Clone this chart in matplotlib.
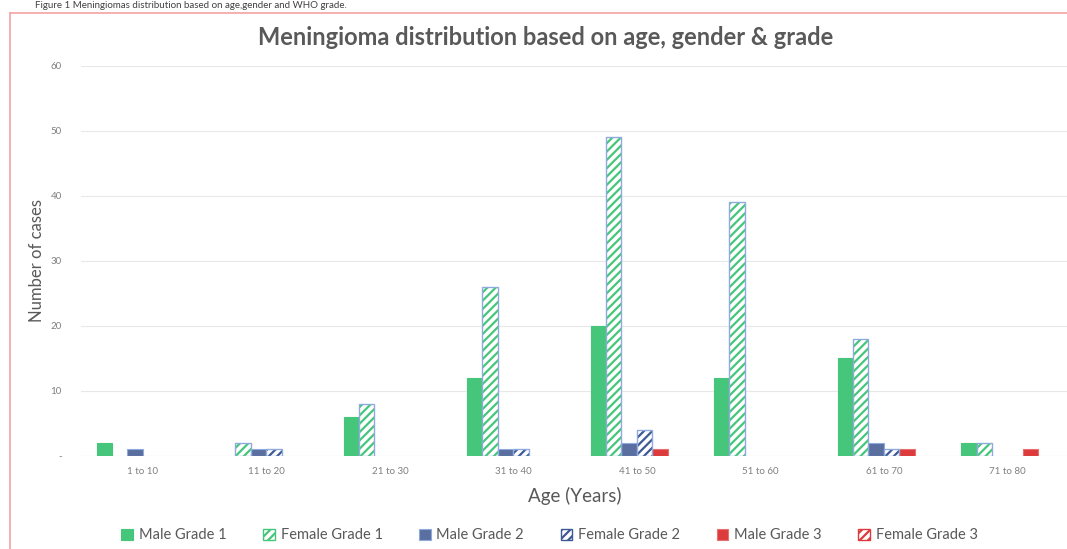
import numpy as np
import matplotlib.pyplot as plt
from matplotlib.lines import Line2D

plt.rcParams['font.family'] = ['Lato', 'DejaVu Sans']
plt.rcParams['hatch.linewidth'] = 1.6

# data
categorias = ["1 to 10", "11 to 20", "21 to 30", "31 to 40", "41 to 50", "51 to 60", "61 to 70", "71 to 80"]
male_g1 = [2, 0, 6, 12, 20, 12, 15, 2]
female_g1 = [0, 2, 8, 26, 49, 39, 18, 2]
male_g2 = [1, 1, 0, 1, 2, 0, 2, 0]
female_g2 = [0, 1, 0, 1, 4, 0, 1, 0]
male_g3 = [0, 0, 0, 0, 1, 0, 1, 1]
female_g3 = [0, 0, 0, 0, 0, 0, 0, 0]
nomes = ["Male Grade 1", "Female Grade 1", "Male Grade 2", "Female Grade 2", "Male Grade 3", "Female Grade 3"]

verde = '#45C67A'
azul = '#5A6FA0'
vermelho = '#DD3B3B'
borda = '#8FAADC'

fig = plt.figure(figsize=(10.67, 5.49), dpi=100)
ax = fig.add_axes([0.076, 0.1694, 0.926, 0.7104])

x = np.arange(len(categorias))
w = 0.125
series = [male_g1, female_g1, male_g2, female_g2, male_g3, female_g3]
# (facecolor, edgecolor, hatch, hatchcolor)
estilos = [
    (verde, verde, None, None),
    ('white', borda, '////', verde),
    (azul, borda, None, None),
    ('white', borda, '////', '#3D5A96'),
    (vermelho, '#E87070', None, None),
    ('white', vermelho, '////', vermelho),
]

for i, (vals, est) in enumerate(zip(series, estilos)):
    fc, ec, h, hc = est
    vals = np.array(vals)
    pos = x + (i - 2.5) * w
    mask = vals > 0  # barras a zero nao se desenham
    if not mask.any():
        continue
    if h is None:
        ax.bar(pos[mask], vals[mask], width=w, color=fc, edgecolor=ec, linewidth=0.8, zorder=3)
    else:
        # hatch primeiro com a cor do hatch, depois a borda por cima
        ax.bar(pos[mask], vals[mask], width=w, color=fc, edgecolor=hc, hatch=h, linewidth=0, zorder=3)
        ax.bar(pos[mask], vals[mask], width=w, fill=False, edgecolor=ec, linewidth=1.0, zorder=4)

ax.set_xlim(-0.5, 7.5)
ax.set_ylim(0, 60)
ax.set_yticks(range(0, 61, 10))
ax.set_yticklabels(['-'] + [str(v) for v in range(10, 61, 10)])
ax.set_xticks(x)
ax.set_xticklabels(categorias)
ax.tick_params(axis='both', length=0, labelsize=7, colors='#7F7F7F')
ax.tick_params(axis='y', pad=14)
ax.tick_params(axis='x', pad=8)
ax.grid(axis='y', color='#E8E8E8', linewidth=0.8, zorder=0)
for s in ax.spines.values():
    s.set_visible(False)
ax.axhline(0, color='#E4E4E4', linewidth=0.8, zorder=1)

ax.set_ylabel("Number of cases", fontsize=12, color='#595959', labelpad=4)
ax.set_xlabel("Age (Years)", fontsize=13.5, color='#595959', labelpad=8)

fig.text(0.511, 0.931, "Meningioma distribution based on age, gender & grade",
         ha='center', va='center', fontsize=17, fontweight='bold', color='#595959')

# legenda
handles = []
for est in estilos:
    fc, ec, h, hc = est
    if h is None:
        handles.append(plt.Rectangle((0, 0), 1, 1, facecolor=fc, edgecolor=ec, linewidth=0.8))
    else:
        handles.append(plt.Rectangle((0, 0), 1, 1, facecolor='white', edgecolor=hc, hatch=h, linewidth=1.0))
fig.legend(handles, nomes, loc='center', bbox_to_anchor=(0.515, 0.025), ncol=6, frameon=False,
           fontsize=10.5, labelcolor='#595959', handlelength=0.8, handleheight=0.8,
           handletextpad=0.4, columnspacing=2.5)

# moldura rosa e legenda da figura no topo
fig.add_artist(Line2D([10 / 1067, 1.0], [1 - 13 / 549, 1 - 13 / 549], color='#F4A3A3', linewidth=1.2))
fig.add_artist(Line2D([10 / 1067, 10 / 1067], [0, 1 - 13 / 549], color='#F4A3A3', linewidth=1.2))
fig.text(35 / 1067, 1 - 6 / 549, "Figure 1 Meningiomas distribution based on age,gender and WHO grade.",
         ha='left', va='center', fontsize=7, color='#404040')

fig.savefig('out.png', dpi=100)
